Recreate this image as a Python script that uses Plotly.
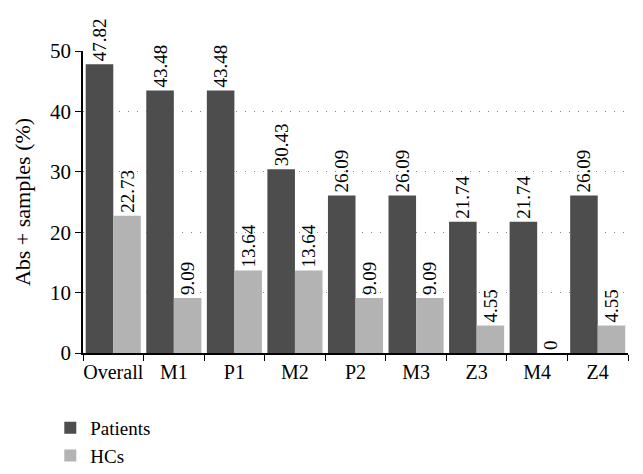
import plotly.graph_objects as go

categories = ["Overall", "M1", "P1", "M2", "P2", "M3", "Z3", "M4", "Z4"]
patients = [47.82, 43.48, 43.48, 30.43, 26.09, 26.09, 21.74, 21.74, 26.09]
hcs = [22.73, 9.09, 13.64, 13.64, 9.09, 9.09, 4.55, 0, 4.55]
y_ticks = [0, 10, 20, 30, 40, 50]

FONT = "Liberation Serif, Times New Roman, serif"


def fmt(v):
    return "0" if v == 0 else f"{v:.2f}"


fig = go.Figure()
fig.add_trace(go.Bar(
    name="Patients", x=categories, y=patients,
    marker=dict(color="#4d4d4d", line=dict(width=0)),
    text=[fmt(v) for v in patients],
    textposition="outside", textangle=-90, cliponaxis=False, constraintext="none",
    textfont=dict(family=FONT, size=19, color="black"),
))
fig.add_trace(go.Bar(
    name="HCs", x=categories, y=hcs,
    marker=dict(color="#b3b3b3", line=dict(width=0)),
    text=[fmt(v) for v in hcs],
    textposition="outside", textangle=-90, cliponaxis=False, constraintext="none",
    textfont=dict(family=FONT, size=19, color="black"),
))

fig.update_layout(
    width=635, height=466,
    margin=dict(l=75, r=15, t=43, b=121, autoexpand=False),
    paper_bgcolor="white", plot_bgcolor="white",
    barmode="group", bargap=0.09, bargroupgap=0,
    font=dict(family=FONT, size=20, color="black"),
    legend=dict(
        orientation="v", x=-0.06, y=-0.185, xanchor="left", yanchor="top",
        font=dict(family=FONT, size=19, color="black"),
        tracegroupgap=0,
    ),
    showlegend=True,
)
fig.update_xaxes(
    showline=True, linecolor="black", linewidth=1.5,
    ticks="outside", tickson="boundaries", ticklen=6, tickcolor="black",
    tickangle=0, automargin=False,
    tickfont=dict(family=FONT, size=20, color="black"),
    showgrid=False,
)
fig.update_yaxes(
    range=[0, 50], tickvals=y_ticks, automargin=False,
    showline=True, linecolor="black", linewidth=1.5,
    ticks="outside", ticklen=6, tickcolor="black",
    tickfont=dict(family=FONT, size=21, color="black"),
    showgrid=True, gridcolor="#888888", griddash="1px,8px", gridwidth=1,
    zeroline=False,
    title=dict(text="Abs + samples (%)", font=dict(family=FONT, size=22, color="black"), standoff=13),
)

fig.write_html("out.html")
